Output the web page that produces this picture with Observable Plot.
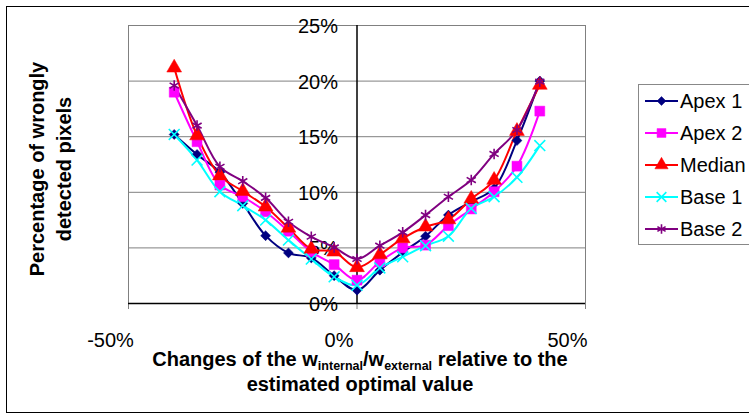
<!DOCTYPE html>
<html><head><meta charset="utf-8">
<script src="https://cdn.jsdelivr.net/npm/d3@7"></script>
<script src="https://cdn.jsdelivr.net/npm/@observablehq/plot@0.6"></script>
<style>
body{margin:0;background:#fff;font-family:Arial,"Liberation Sans",sans-serif;}
#wrap{position:relative;width:749px;height:416px;overflow:hidden;background:#fff;}
#wrap svg.plot{position:absolute;left:0;top:0;}
#frame{position:absolute;left:6px;top:6px;width:800px;height:407px;border:1.5px solid #000;box-sizing:border-box;pointer-events:none;}
#legend{position:absolute;left:638px;top:84px;width:140px;height:161px;border:1px solid #888;background:#fff;box-sizing:border-box;}
#legend .item{height:32px;display:flex;align-items:center;padding-left:6px;font-size:20px;color:#000;white-space:nowrap;}
#legend .item svg{margin-right:1px;}
#xtitle{position:absolute;left:60px;top:347px;width:600px;text-align:center;font-weight:bold;font-size:20px;line-height:25px;}
#xtitle sub{font-size:12.5px;vertical-align:-4px;line-height:0;}
#ytitle{position:absolute;left:-99px;top:142px;width:300px;height:54px;text-align:center;font-weight:bold;font-size:20px;line-height:27px;transform:rotate(-90deg);}
</style>
</head><body>
<div id="wrap">
<div id="chart"></div>
<div id="legend"></div>
<div id="xtitle">Changes of the w<sub>internal</sub>/w<sub>external</sub> relative to the<br>estimated optimal value</div>
<div id="ytitle">Percentage of wrongly<br>detected pixels</div>
<div id="frame"></div>
</div>
<script>
const xs = [-40,-35,-30,-25,-20,-15,-10,-5,0,5,10,15,20,25,30,35,40];
const apex1  = [15.2,13.4,11.8,9.0,6.1,4.55,4.1,2.5,1.2,3.0,4.6,6.05,7.95,9.15,10.35,14.65,20.0];
const apex2  = [19.0,14.55,10.65,9.6,8.25,6.5,4.65,3.5,2.1,3.75,5.0,5.25,7.0,8.5,10.05,12.35,17.3];
const median = [21.2,15.1,11.5,10.1,8.7,6.8,4.9,4.65,3.25,4.4,5.85,6.9,7.55,9.4,11.1,15.5,19.65];
const base1  = [15.2,12.9,10.05,8.8,7.5,5.7,4.0,2.4,1.65,3.2,4.2,5.2,6.05,8.55,9.6,11.35,14.2];
const base2  = [19.6,16.0,12.3,11.0,9.5,7.35,6.0,5.05,4.0,5.2,6.4,7.95,9.6,11.1,13.45,15.6,19.95];
const seriesNames = ["Apex 1","Apex 2","Median","Base 1","Base 2"];
const seriesValues = [apex1, apex2, median, base1, base2];
const colors = ["#000080","#FF00FF","#FF0000","#00FFFF","#800080"];
const symbols = ["diamond2","square","triangle","times","asterisk"];
const filled = [true,true,true,false,false];
const radii = [4.5,5.6,5.5,5,5];
const xTicks = [-50,0,50];
const yTicks = [0,5,10,15,20,25];

const rows = seriesNames.map((s,i)=>xs.map((x,j)=>({series:s, x, y:seriesValues[i][j]})));

const marks = [
  Plot.ruleY(yTicks.filter(d=>d>0), {stroke:"#808080", strokeWidth:1}),
  Plot.ruleX([-50,50], {stroke:"#808080", strokeWidth:1}),
  Plot.axisX(xTicks, {tickSize:6, stroke:"#808080", tickFormat:()=>"", label:null}),
  Plot.axisX(xTicks, {tickSize:0, tickPadding:29, dx:-18, fill:"#000", fontSize:20, tickFormat:d=>d+"%", label:null}),
  Plot.text(yTicks, {x:()=>0, y:d=>d, text:d=>d+"%", textAnchor:"end", dx:-19, dy:1, fontSize:20, fill:"#000"}),
  Plot.ruleX([0], {stroke:"#000", strokeWidth:1.5}),
  Plot.ruleY([0], {stroke:"#000", strokeWidth:1.5})
];
rows.forEach((r,i)=>{
  marks.push(Plot.line(r, {x:"x", y:"y", stroke:colors[i], strokeWidth:2, curve:"catmull-rom"}));
});
rows.forEach((r,i)=>{
  marks.push(Plot.dot(r, {x:"x", y:"y", symbol:()=>symbols[i], r:radii[i],
    fill: filled[i] ? colors[i] : "none", stroke: colors[i], strokeWidth: filled[i] ? 0.5 : 1.6}));
});

const chart = Plot.plot({
  width:749, height:416,
  marginLeft:128, marginRight:164, marginTop:25, marginBottom:113,
  x:{domain:[-50,50], axis:null},
  y:{domain:[0,25], axis:null},
  symbol:{type:"identity"},
  style:{fontFamily:"Arial, 'Liberation Sans', sans-serif", fontSize:"20px", background:"transparent", overflow:"visible"},
  marks
});
chart.classList.add("plot");
document.getElementById("chart").appendChild(chart);

const symMap = {diamond2:d3.symbolDiamond2, square:d3.symbolSquare, triangle:d3.symbolTriangle, times:d3.symbolTimes, asterisk:d3.symbolAsterisk};
const legend = document.getElementById("legend");
seriesNames.forEach((s,i)=>{
  const row = document.createElement("div");
  row.className = "item";
  const size = Math.PI*radii[i]*radii[i]*0.8;
  const p = d3.symbol(symMap[symbols[i]], size)();
  row.innerHTML = `<svg width="34" height="20"><line x1="0" x2="33" y1="10" y2="10" stroke="${colors[i]}" stroke-width="2"/><path transform="translate(16.5,10)" d="${p}" fill="${filled[i]?colors[i]:"none"}" stroke="${colors[i]}" stroke-width="${filled[i]?0.5:1.6}"/></svg><span>${s}</span>`;
  legend.appendChild(row);
});
</script>
</body></html>
